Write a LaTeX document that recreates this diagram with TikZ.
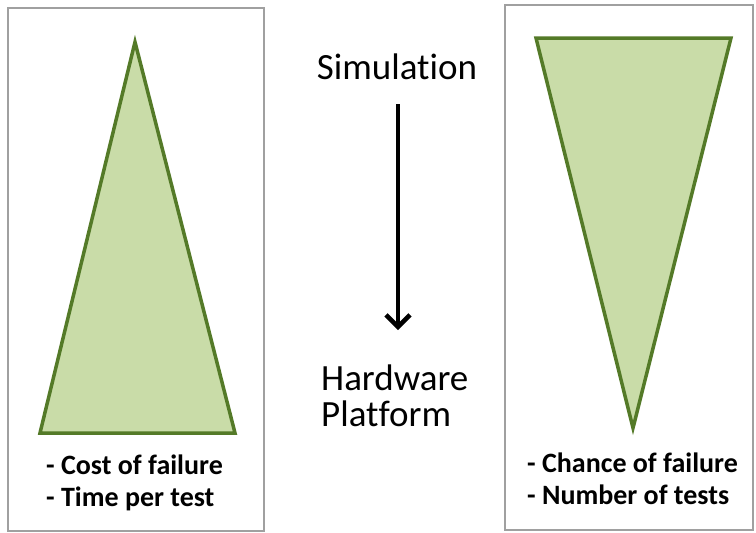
\documentclass[tikz,border=0pt]{standalone}
\usepackage{fontspec}
\setmainfont{Carlito}[Ligatures=NoCommon]
\usetikzlibrary{arrows.meta}
\definecolor{trifill}{RGB}{201,220,168}
\definecolor{tridraw}{RGB}{84,122,40}
\definecolor{boxgray}{RGB}{160,160,160}
\tikzset{
  panel/.style={draw=boxgray, line width=2.5pt},
  tri/.style={fill=trifill, draw=tridraw, line width=3.5pt, line join=miter},
  bigtext/.style={font=\fontsize{37}{36}\selectfont, inner sep=0pt},
  listtext/.style={font=\fontsize{28}{32}\selectfont\bfseries, inner sep=0pt, align=left, anchor=north west},
  flow/.style={line width=4.5pt, -{Straight Barb[length=12pt, width=24pt, line width=4.5pt]}}
}
\begin{document}
\begin{tikzpicture}[x=1pt, y=-1pt]
\useasboundingbox (0,0) rectangle (756,533);
% panels
\draw[panel] (8,8) rectangle (264,531);
\draw[panel] (505,5) rectangle (753,530);
% triangles
\coordinate (lapex) at (135,42);
\coordinate (lbl) at (40,433);
\coordinate (lbr) at (235,433);
\draw[tri] (lapex) -- (lbr) -- (lbl) -- cycle;
\coordinate (rtl) at (536,38);
\coordinate (rtr) at (731,38);
\coordinate (rbot) at (633,428);
\draw[tri] (rtl) -- (rtr) -- (rbot) -- cycle;
% lists
\node[listtext] (llist) at (46,455) {- Cost of failure\\- Time per test};
\node[listtext] (rlist) at (527,453) {- Chance of failure\\- Number of tests};
% center
\node[bigtext] (sim) at (397,67) {Simulation};
\node[bigtext, align=left, anchor=north west] (hw) at (321,365) {Hardware\\Platform};
\coordinate (astart) at (398,104);
\coordinate (aend) at (398,330);
\draw[flow] (astart) -- (aend);
\end{tikzpicture}
\end{document}
